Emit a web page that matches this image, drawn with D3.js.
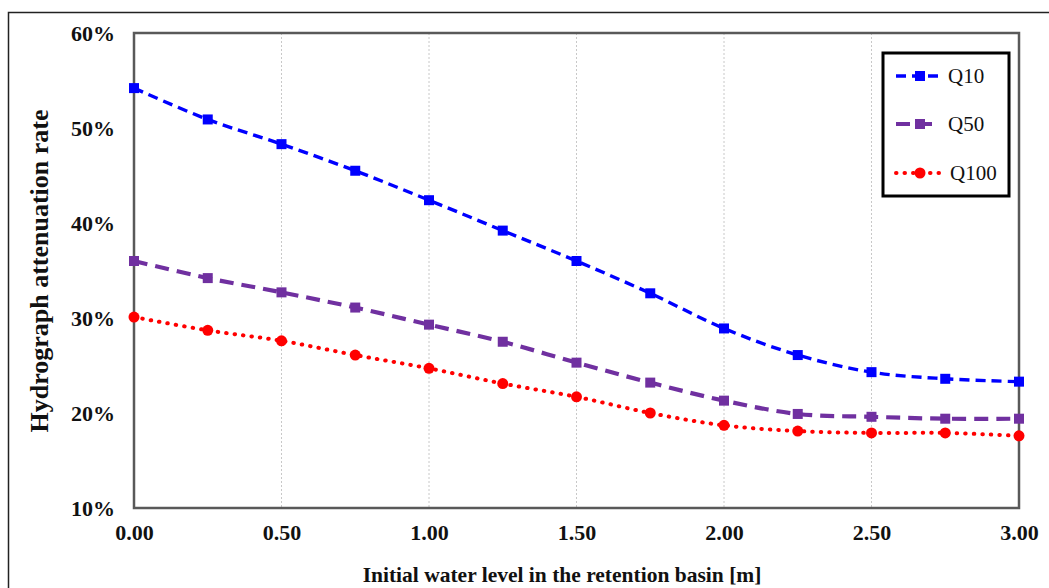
<!DOCTYPE html>
<html>
<head>
<meta charset="utf-8">
<script src="https://cdn.jsdelivr.net/npm/d3@7"></script>
<style>
  body { margin: 0; background: #fff; }
  text { font-family: "Liberation Serif", "Times New Roman", serif; }
</style>
</head>
<body>
<div id="chart"></div>
<script>
var levels = [0, 0.25, 0.5, 0.75, 1.0, 1.25, 1.5, 1.75, 2.0, 2.25, 2.5, 2.75, 3.0];
var q10 = [54.2, 50.9, 48.3, 45.5, 42.4, 39.2, 36.0, 32.6, 28.9, 26.1, 24.3, 23.6, 23.3];
var q50 = [36.0, 34.2, 32.7, 31.1, 29.3, 27.5, 25.3, 23.2, 21.3, 19.9, 19.6, 19.4, 19.4];
var q100 = [30.1, 28.7, 27.6, 26.1, 24.7, 23.1, 21.7, 20.0, 18.7, 18.1, 17.9, 17.9, 17.6];
var seriesNames = ["Q10", "Q50", "Q100"];
var xTicks = [0, 0.5, 1.0, 1.5, 2.0, 2.5, 3.0];
var yTicks = [10, 20, 30, 40, 50, 60];

var width = 1049, height = 588;
var plotLeft = 134, plotRight = 1019, plotTop = 33, plotBottom = 508;

var svg = d3.select("#chart").append("svg")
    .attr("width", width)
    .attr("height", height);

// outer frame
svg.append("rect")
    .attr("x", 8.5).attr("y", 12.5)
    .attr("width", 1060).attr("height", 600)
    .attr("fill", "none")
    .attr("stroke", "#222")
    .attr("stroke-width", 1.5);

var x = d3.scaleLinear().domain([0, 3]).range([plotLeft, plotRight]);
var y = d3.scaleLinear().domain([10, 60]).range([plotBottom, plotTop]);

// vertical grid
svg.append("g").selectAll("line")
    .data(xTicks.slice(1, -1))
    .enter().append("line")
    .attr("x1", function(d) { return x(d); })
    .attr("x2", function(d) { return x(d); })
    .attr("y1", plotTop).attr("y2", plotBottom)
    .attr("stroke", "#c8c8c8")
    .attr("stroke-width", 1)
    .attr("stroke-dasharray", "2,2");

// plot border
svg.append("rect")
    .attr("x", plotLeft).attr("y", plotTop)
    .attr("width", plotRight - plotLeft).attr("height", plotBottom - plotTop)
    .attr("fill", "none")
    .attr("stroke", "#595959")
    .attr("stroke-width", 2.5);

// axes
var xAxis = svg.append("g")
    .attr("transform", "translate(0," + plotBottom + ")")
    .call(d3.axisBottom(x).tickValues(xTicks).tickSize(0).tickPadding(16)
        .tickFormat(d3.format(".2f")));
var yAxis = svg.append("g")
    .attr("transform", "translate(" + plotLeft + ",0)")
    .call(d3.axisLeft(y).tickValues(yTicks).tickSize(0).tickPadding(19)
        .tickFormat(function(d) { return d + "%"; }));
[xAxis, yAxis].forEach(function(a) {
    a.select(".domain").remove();
    a.selectAll("text")
        .attr("font-family", "Liberation Serif, serif")
        .attr("font-size", 22)
        .attr("font-weight", "bold")
        .attr("fill", "#111");
});

svg.append("text")
    .attr("x", 562)
    .attr("y", 582)
    .attr("text-anchor", "middle")
    .attr("font-size", 21.5)
    .attr("font-weight", "bold")
    .attr("fill", "#111")
    .text("Initial water level in the retention basin [m]");

svg.append("text")
    .attr("transform", "translate(48,271) rotate(-90)")
    .attr("text-anchor", "middle")
    .attr("font-size", 26)
    .attr("font-weight", "bold")
    .attr("fill", "#111")
    .text("Hydrograph attenuation rate");

var styles = [
    { values: q10, color: "#0000ff", dash: "10,6", width: 3.4, marker: "square" },
    { values: q50, color: "#7030a0", dash: "14,8", width: 4.2, marker: "square" },
    { values: q100, color: "#ff0000", dash: "0.5,8", width: 4, marker: "circle", cap: "round" }
];

var line = d3.line()
    .x(function(d) { return x(d[0]); })
    .y(function(d) { return y(d[1]); })
    .curve(d3.curveCatmullRom.alpha(0));

styles.forEach(function(s) {
    var pts = levels.map(function(l, i) { return [l, s.values[i]]; });
    svg.append("path")
        .datum(pts)
        .attr("d", line)
        .attr("fill", "none")
        .attr("stroke", s.color)
        .attr("stroke-width", s.width)
        .attr("stroke-dasharray", s.dash)
        .attr("stroke-linecap", s.cap || "butt");
    drawMarkers(svg, pts, s);
});

function drawMarkers(g, pts, s) {
    if (s.marker === "square") {
        g.append("g").selectAll("rect")
            .data(pts)
            .enter().append("rect")
            .attr("x", function(d) { return x(d[0]) - 5; })
            .attr("y", function(d) { return y(d[1]) - 5; })
            .attr("width", 10).attr("height", 10)
            .attr("fill", s.color);
    } else {
        g.append("g").selectAll("circle")
            .data(pts)
            .enter().append("circle")
            .attr("cx", function(d) { return x(d[0]); })
            .attr("cy", function(d) { return y(d[1]); })
            .attr("r", 5.5)
            .attr("fill", s.color);
    }
}

// legend
var legend = svg.append("g");
legend.append("rect")
    .attr("x", 883).attr("y", 53)
    .attr("width", 126).attr("height", 143)
    .attr("fill", "#fff")
    .attr("stroke", "#000")
    .attr("stroke-width", 3);

var legendY = [76, 124, 173];
styles.forEach(function(s, i) {
    var ly = legendY[i];
    legend.append("line")
        .attr("x1", 896).attr("x2", 940)
        .attr("y1", ly).attr("y2", ly)
        .attr("stroke", s.color)
        .attr("stroke-width", s.width)
        .attr("stroke-dasharray", s.dash)
        .attr("stroke-linecap", s.cap || "butt");
    var mx = 920;
    if (s.marker === "square") {
        legend.append("rect")
            .attr("x", mx - 5).attr("y", ly - 5)
            .attr("width", 10).attr("height", 10)
            .attr("fill", s.color);
    } else {
        legend.append("circle")
            .attr("cx", mx).attr("cy", ly).attr("r", 5.5)
            .attr("fill", s.color);
    }
    legend.append("text")
        .attr("x", i === 2 ? 950 : 948)
        .attr("y", ly + 7)
        .attr("font-size", 21)
        .attr("fill", "#111")
        .text(seriesNames[i]);
});
</script>
</body>
</html>
